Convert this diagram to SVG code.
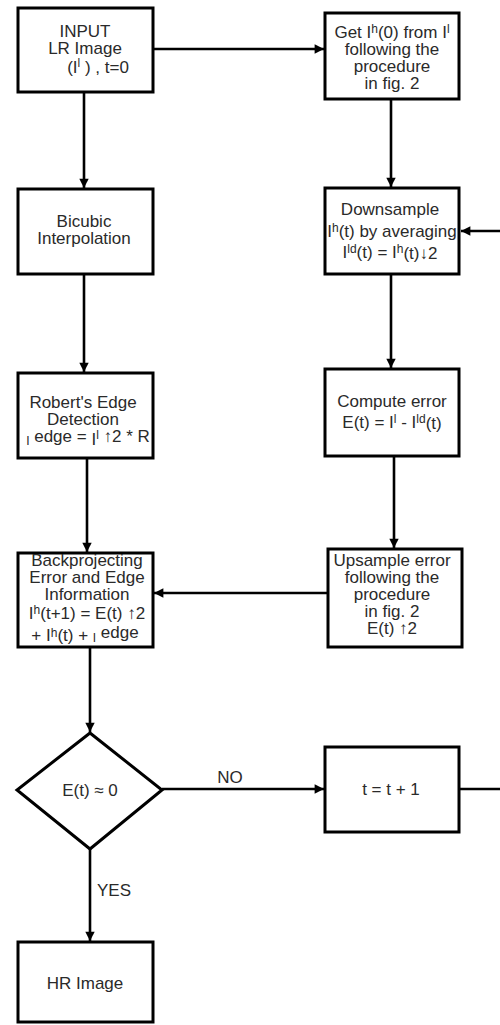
<svg xmlns="http://www.w3.org/2000/svg" width="500" height="1025" viewBox="0 0 500 1025">
<style>
.box{fill:#fff;stroke:#000;stroke-width:3}
.t{font-family:"Liberation Sans",Arial,sans-serif;font-size:17px;fill:#2a2a2a;text-anchor:middle}
.s{font-size:12px}
.c{fill:none;stroke:#000;stroke-width:2.6}
</style>
<defs>
<marker id="ah" viewBox="0 0 10 10" refX="10" refY="5" markerWidth="4.2" markerHeight="3.6" markerUnits="strokeWidth" orient="auto">
<path d="M0,0 L10,5 L0,10 z" fill="#000"/>
</marker>
</defs>
<rect width="500" height="1025" fill="#fff"/>
<g id="connectors">
<line class="c" x1="153" y1="49" x2="324" y2="49" marker-end="url(#ah)"/>
<line class="c" x1="84" y1="92" x2="84" y2="188" marker-end="url(#ah)"/>
<line class="c" x1="391" y1="99" x2="391" y2="187" marker-end="url(#ah)"/>
<line class="c" x1="84" y1="274" x2="84" y2="372" marker-end="url(#ah)"/>
<line class="c" x1="391" y1="274" x2="391" y2="368" marker-end="url(#ah)"/>
<line class="c" x1="87" y1="458" x2="87" y2="552" marker-end="url(#ah)"/>
<line class="c" x1="394" y1="456" x2="394" y2="548" marker-end="url(#ah)"/>
<line class="c" x1="328" y1="593" x2="154" y2="593" marker-end="url(#ah)"/>
<line class="c" x1="90" y1="647" x2="90" y2="732" marker-end="url(#ah)"/>
<line class="c" x1="162" y1="789" x2="324" y2="789" marker-end="url(#ah)"/>
<line class="c" x1="90" y1="849" x2="90" y2="941" marker-end="url(#ah)"/>
<line class="c" x1="459" y1="789" x2="500" y2="789"/>
<line class="c" x1="500" y1="231" x2="461" y2="231" marker-end="url(#ah)"/>
<text class="t" x="230" y="783">NO</text>
<text class="t" x="114" y="896">YES</text>
</g>
<g id="input">
<rect class="box" x="18" y="8" width="135" height="84"/>
<text class="t" x="85" y="37">INPUT</text>
<text class="t" x="85" y="54">LR Image</text>
<text class="t" x="98" y="73">(I<tspan class="s" dy="-6">l</tspan><tspan dy="6"> ) , t=0</tspan></text>
</g>
<g id="get">
<rect class="box" x="325" y="13" width="134" height="86"/>
<text class="t" x="392" y="38">Get  I<tspan class="s" dy="-5">h</tspan><tspan dy="5">(0) from I</tspan><tspan class="s" dy="-5">l</tspan></text>
<text class="t" x="392" y="55">following the</text>
<text class="t" x="392" y="72">procedure</text>
<text class="t" x="392" y="89">in fig.  2</text>
</g>
<g id="bicubic">
<rect class="box" x="18" y="189" width="135" height="85"/>
<text class="t" x="84" y="227">Bicubic</text>
<text class="t" x="84" y="244">Interpolation</text>
</g>
<g id="downsample">
<rect class="box" x="325" y="188" width="134" height="86"/>
<text class="t" x="390" y="215">Downsample</text>
<text class="t" x="392" y="237">I<tspan class="s" dy="-5">h</tspan><tspan dy="5">(t) by averaging</tspan></text>
<text class="t" x="390" y="258">I<tspan class="s" dy="-5">ld</tspan><tspan dy="5">(t) = I</tspan><tspan class="s" dy="-5">h</tspan><tspan dy="6">(t)↓2</tspan></text>
</g>
<g id="roberts">
<rect class="box" x="18" y="373" width="135" height="85"/>
<text class="t" x="83" y="408">Robert's Edge</text>
<text class="t" x="83" y="425">Detection</text>
<text class="t" x="88" y="442"><tspan class="s" dy="3">I</tspan><tspan dy="-3"> edge = </tspan><tspan dy="3">I</tspan><tspan class="s" dy="-6">l</tspan><tspan dy="3"> ↑2 * R</tspan></text>
</g>
<g id="compute">
<rect class="box" x="325" y="369" width="134" height="87"/>
<text class="t" x="392" y="407">Compute error</text>
<text class="t" x="392" y="428">E(t) =   I<tspan class="s" dy="-5">l</tspan><tspan dy="5"> - I</tspan><tspan class="s" dy="-5">ld</tspan><tspan dy="6">(t)</tspan></text>
</g>
<g id="backprojecting">
<rect class="box" x="18" y="553" width="135" height="94"/>
<text class="t" x="87" y="566">Backprojecting</text>
<text class="t" x="87" y="583">Error and Edge</text>
<text class="t" x="87" y="600">Information</text>
<text class="t" x="87" y="619">I<tspan class="s" dy="-5">h</tspan><tspan dy="5">(t+1) = E(t) ↑2</tspan></text>
<text class="t" x="85" y="641">+ I<tspan class="s" dy="-4">h</tspan><tspan dy="4">(t) + </tspan><tspan class="s" dy="1">I</tspan><tspan dy="-4"> edge</tspan></text>
</g>
<g id="upsample">
<rect class="box" x="328" y="549" width="134" height="98"/>
<text class="t" x="392" y="566">Upsample error</text>
<text class="t" x="392" y="583">following the</text>
<text class="t" x="392" y="600">procedure</text>
<text class="t" x="392" y="617">in fig. 2</text>
<text class="t" x="392" y="634">E(t) ↑2</text>
</g>
<g id="decision">
<polygon class="box" points="90,733 162,790 90,849 17,790"/>
<text class="t" x="90" y="796">E(t) ≈ 0</text>
</g>
<g id="increment">
<rect class="box" x="325" y="747" width="134" height="85"/>
<text class="t" x="391" y="795">t = t + 1</text>
</g>
<g id="hr">
<rect class="box" x="18" y="942" width="135" height="80"/>
<text class="t" x="85" y="989">HR Image</text>
</g>
</svg>
